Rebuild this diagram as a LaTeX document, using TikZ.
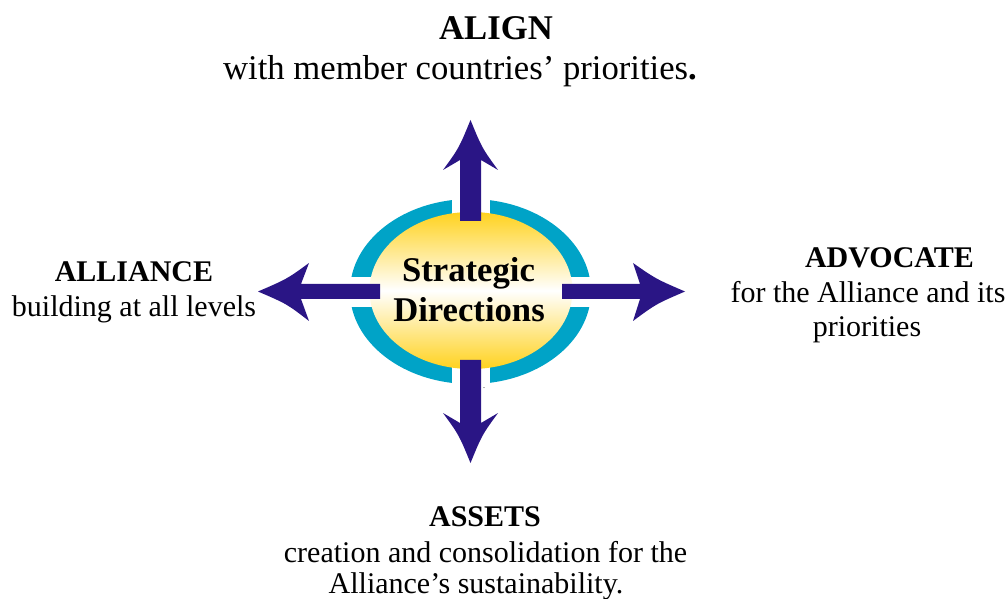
\documentclass[tikz,border=0pt]{standalone}
\usepackage{fontspec}
\setmainfont{Liberation Serif}
\begin{document}
\definecolor{ringteal}{HTML}{00A3C7}
\definecolor{arrowblue}{HTML}{2A1585}
\definecolor{gold}{HTML}{FFD21E}
\begin{tikzpicture}[x=0.75pt,y=-0.75pt,
  headtxt/.style={anchor=base,inner sep=0pt,font=\fontsize{22.5}{27}\selectfont\bfseries},
  bodytxt/.style={anchor=base,inner sep=0pt,font=\fontsize{22.5}{27}\selectfont},
  bigtxt/.style={anchor=base,inner sep=0pt,font=\fontsize{26}{30}\selectfont},
  blockarrow/.style={fill=arrowblue,draw=none}]
\useasboundingbox (0,0) rectangle (1008,599);

% teal ring, split by white bands
\fill[ringteal] (470.5,291.5) ellipse [x radius=120.5, y radius=92.5];
\fill[white] (452,190) rectangle (490,395);
\fill[white] (345,277) rectangle (597,307);
% golden centre
\shade[top color=gold,bottom color=gold,middle color=white]
  (471,290.5) ellipse [x radius=101.5, y radius=78.5];

% four block arrows
\fill[blockarrow] (460,221) -- (460,160) -- (443,170)
  .. controls (459,148) .. (470.5,120) .. controls (482,148) .. (498,170)
  -- (481,160) -- (481,221) -- cycle;
\fill[blockarrow] (460,360) -- (460,423) -- (443,413)
  .. controls (459,435) .. (470.5,463) .. controls (482,435) .. (498,413)
  -- (481,423) -- (481,360) -- cycle;
\fill[blockarrow] (380,284) -- (301,284) -- (309,263)
  .. controls (287,279) .. (258,291.5) .. controls (287,304) .. (309,321)
  -- (301,299) -- (380,299) -- cycle;
\fill[blockarrow] (562,284) -- (640,284) -- (633,263)
  .. controls (656,279) .. (685,291.5) .. controls (656,304) .. (633,321)
  -- (640,299) -- (562,299) -- cycle;

% centre label
\node[bigtxt,font=\fontsize{26}{30}\selectfont\bfseries] (sd1) at (468.5,282) {Strategic};
\node[bigtxt,font=\fontsize{26}{30}\selectfont\bfseries] (sd2) at (469,321) {Directions};
\node[inner sep=0pt,font=\fontsize{6}{6}\selectfont] (dot) at (484,388) {.};

% ALIGN
\node[bigtxt,font=\fontsize{26}{30}\selectfont\bfseries] (align) at (496,40) {ALIGN};
\node[bigtxt] (alignb) at (460,80) {with member countries’ priorities\textbf{.}};

% ALLIANCE
\node[headtxt] (alliance) at (134,282) {ALLIANCE};
\node[bodytxt] (allianceb) at (134,316) {building at all levels};

% ADVOCATE
\node[headtxt] (advocate) at (889.5,268) {ADVOCATE};
\node[bodytxt] (advocateb) at (868,303) {for the Alliance and its};
\node[bodytxt] (advocatec) at (867,337) {priorities};

% ASSETS
\node[headtxt] (assets) at (485,526) {ASSETS};
\node[bodytxt] (assetsb) at (485.5,562) {creation and consolidation for the};
\node[bodytxt] (assetsc) at (476,593) {Alliance’s sustainability.};
\end{tikzpicture}
\end{document}
